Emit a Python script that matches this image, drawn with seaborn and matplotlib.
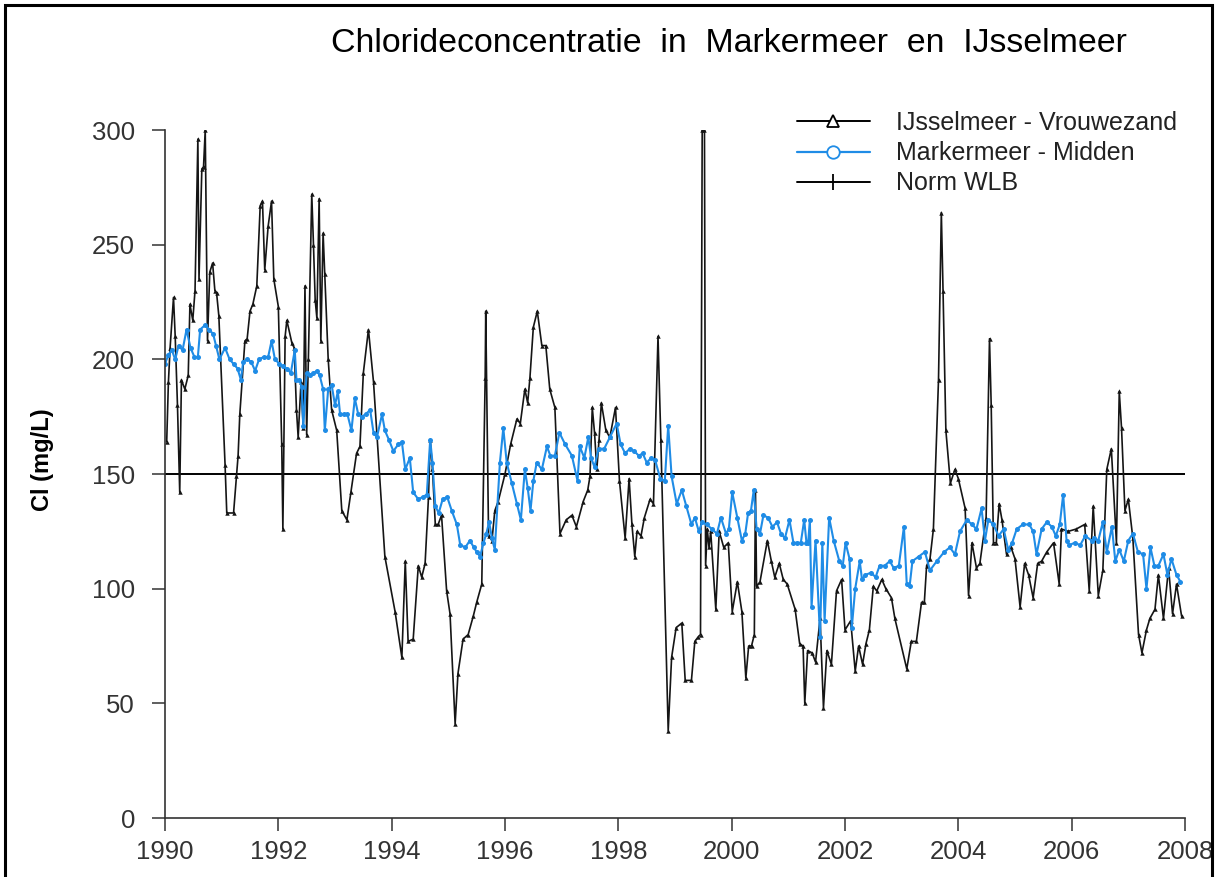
import matplotlib
matplotlib.use("Agg")
import matplotlib.pyplot as plt
from matplotlib.lines import Line2D
from matplotlib.patches import Rectangle
import seaborn as sns
import pandas as pd

# ---------------- data ----------------
ijssel_year = [
    1990.03, 1990.06, 1990.09, 1990.15, 1990.18, 1990.22, 1990.26, 1990.29, 1990.35, 1990.41,
    1990.44, 1990.49, 1990.53, 1990.58, 1990.60, 1990.65, 1990.68, 1990.71, 1990.75, 1990.79,
    1990.84, 1990.88, 1990.91, 1990.95, 1991.06, 1991.09, 1991.21, 1991.26, 1991.29, 1991.32,
    1991.41, 1991.45, 1991.50, 1991.55, 1991.62, 1991.68, 1991.72, 1991.76, 1991.82, 1991.88,
    1991.92, 1992.00, 1992.06, 1992.08, 1992.12, 1992.15, 1992.24, 1992.28, 1992.32, 1992.35,
    1992.40, 1992.44, 1992.47, 1992.50, 1992.53, 1992.59, 1992.62, 1992.65, 1992.68, 1992.72,
    1992.75, 1992.79, 1992.82, 1992.88, 1992.94, 1993.03, 1993.12, 1993.21, 1993.28, 1993.38,
    1993.44, 1993.50, 1993.59, 1993.68, 1993.88, 1994.06, 1994.18, 1994.24, 1994.29, 1994.38,
    1994.47, 1994.53, 1994.59, 1994.65, 1994.68, 1994.72, 1994.77, 1994.82, 1994.88, 1994.97,
    1995.03, 1995.12, 1995.17, 1995.26, 1995.35, 1995.44, 1995.50, 1995.59, 1995.65, 1995.66,
    1995.71, 1995.77, 1995.82, 1995.88, 1996.00, 1996.10, 1996.21, 1996.27, 1996.35, 1996.40,
    1996.44, 1996.50, 1996.57, 1996.65, 1996.72, 1996.79, 1996.88, 1996.97, 1997.08, 1997.18,
    1997.26, 1997.38, 1997.46, 1997.50, 1997.54, 1997.58, 1997.62, 1997.66, 1997.70, 1997.78,
    1997.85, 1997.95, 1998.02, 1998.12, 1998.19, 1998.24, 1998.29, 1998.33, 1998.40, 1998.46,
    1998.56, 1998.62, 1998.70, 1998.75, 1998.88, 1998.94, 1999.02, 1999.12, 1999.18, 1999.29,
    1999.35, 1999.41, 1999.45, 1999.48, 1999.52, 1999.54, 1999.57, 1999.60, 1999.63, 1999.72,
    1999.78, 1999.86, 1999.94, 2000.01, 2000.10, 2000.18, 2000.25, 2000.30, 2000.35, 2000.40,
    2000.42, 2000.44, 2000.50, 2000.63, 2000.70, 2000.76, 2000.84, 2000.91, 2000.98, 2001.12,
    2001.20, 2001.26, 2001.29, 2001.34, 2001.42, 2001.48, 2001.56, 2001.62, 2001.68, 2001.76,
    2001.85, 2001.94, 2002.00, 2002.10, 2002.18, 2002.24, 2002.31, 2002.37, 2002.43, 2002.50,
    2002.56, 2002.65, 2002.72, 2002.82, 2002.88, 2003.09, 2003.17, 2003.26, 2003.35, 2003.40,
    2003.44, 2003.50, 2003.56, 2003.65, 2003.70, 2003.73, 2003.78, 2003.86, 2003.94, 2004.00,
    2004.12, 2004.18, 2004.24, 2004.32, 2004.38, 2004.49, 2004.55, 2004.58, 2004.62, 2004.67,
    2004.72, 2004.77, 2004.85, 2004.93, 2005.00, 2005.09, 2005.17, 2005.24, 2005.32, 2005.40,
    2005.47, 2005.56, 2005.68, 2005.78, 2005.82, 2005.94, 2006.08, 2006.23, 2006.31, 2006.38,
    2006.47, 2006.55, 2006.62, 2006.70, 2006.79, 2006.84, 2006.88, 2006.94, 2007.00, 2007.08,
    2007.18, 2007.24, 2007.32, 2007.38, 2007.47, 2007.53, 2007.62, 2007.71, 2007.78, 2007.85,
    2007.94,
]
ijssel_cl = [
    164, 190, 205, 227, 210, 180, 142, 191, 187, 193,
    224, 217, 230, 296, 235, 283, 284, 300, 208, 238,
    242, 230, 229, 219, 154, 133, 133, 149, 158, 176,
    208, 209, 221, 224, 232, 267, 269, 239, 258, 269,
    235, 223, 163, 126, 210, 217, 207, 205, 178, 166,
    190, 170, 232, 167, 200, 272, 250, 226, 218, 270,
    208, 255, 237, 200, 178, 169, 134, 130, 142, 159,
    162, 194, 213, 190, 114, 90, 70, 112, 77, 78,
    110, 105, 111, 140, 165, 152, 128, 128, 132, 99,
    89, 41, 63, 78, 80, 88, 94, 102, 192, 221,
    123, 121, 134, 138, 150, 163, 174, 172, 187, 181,
    192, 214, 221, 206, 206, 187, 179, 124, 130, 132,
    127, 138, 143, 149, 179, 168, 152, 165, 181, 169,
    166, 179, 147, 122, 148, 128, 114, 125, 123, 131,
    139, 137, 210, 165, 38, 70, 83, 85, 60, 60,
    77, 79, 80, 300, 300, 110, 126, 118, 125, 91,
    125, 118, 120, 90, 103, 90, 61, 75, 75, 80,
    143, 101, 103, 121, 112, 105, 111, 104, 102, 91,
    76, 75, 50, 73, 72, 68, 87, 48, 73, 67,
    99, 104, 82, 86, 64, 75, 67, 76, 82, 101,
    99, 104, 100, 96, 87, 65, 77, 77, 94, 94,
    110, 113, 126, 191, 264, 230, 169, 146, 152, 148,
    135, 97, 120, 109, 111, 131, 209, 180, 120, 120,
    137, 130, 115, 118, 113, 92, 111, 106, 96, 111,
    112, 116, 120, 102, 126, 125, 126, 128, 99, 136,
    97, 108, 152, 161, 120, 186, 170, 134, 139, 122,
    80, 72, 82, 87, 91, 106, 87, 109, 89, 102,
    88,
]

marker_year = [
    1990.00, 1990.06, 1990.12, 1990.18, 1990.24, 1990.31, 1990.38, 1990.45, 1990.52, 1990.58,
    1990.62, 1990.71, 1990.78, 1990.85, 1990.90, 1990.96, 1991.06, 1991.14, 1991.21, 1991.28,
    1991.34, 1991.38, 1991.45, 1991.52, 1991.59, 1991.66, 1991.74, 1991.82, 1991.88, 1991.94,
    1992.02, 1992.08, 1992.15, 1992.22, 1992.29, 1992.32, 1992.37, 1992.41, 1992.44, 1992.50,
    1992.56, 1992.62, 1992.68, 1992.73, 1992.79, 1992.82, 1992.88, 1992.94, 1993.00, 1993.05,
    1993.09, 1993.15, 1993.22, 1993.29, 1993.35, 1993.41, 1993.47, 1993.54, 1993.62, 1993.68,
    1993.74, 1993.83, 1993.88, 1993.95, 1994.03, 1994.12, 1994.18, 1994.24, 1994.32, 1994.38,
    1994.47, 1994.55, 1994.62, 1994.68, 1994.72, 1994.77, 1994.83, 1994.90, 1994.98, 1995.06,
    1995.15, 1995.21, 1995.30, 1995.38, 1995.45, 1995.50, 1995.56, 1995.62, 1995.67, 1995.72,
    1995.77, 1995.82, 1995.91, 1995.97, 1996.03, 1996.12, 1996.21, 1996.28, 1996.35, 1996.40,
    1996.45, 1996.50, 1996.56, 1996.65, 1996.74, 1996.80, 1996.88, 1996.96, 1997.06, 1997.18,
    1997.28, 1997.32, 1997.40, 1997.47, 1997.52, 1997.58, 1997.65, 1997.75, 1997.85, 1997.97,
    1998.04, 1998.12, 1998.20, 1998.28, 1998.36, 1998.43, 1998.50, 1998.58, 1998.65, 1998.74,
    1998.82, 1998.88, 1998.94, 1999.03, 1999.12, 1999.20, 1999.29, 1999.35, 1999.42, 1999.48,
    1999.56, 1999.65, 1999.74, 1999.81, 1999.90, 1999.95, 2000.01, 2000.10, 2000.18, 2000.24,
    2000.29, 2000.34, 2000.39, 2000.44, 2000.50, 2000.56, 2000.64, 2000.72, 2000.80, 2000.87,
    2000.94, 2001.02, 2001.09, 2001.15, 2001.22, 2001.28, 2001.32, 2001.35, 2001.38, 2001.41,
    2001.48, 2001.56, 2001.60, 2001.64, 2001.72, 2001.80, 2001.90, 2001.96, 2002.01, 2002.08,
    2002.12, 2002.18, 2002.26, 2002.30, 2002.36, 2002.46, 2002.54, 2002.61, 2002.70, 2002.79,
    2002.86, 2002.95, 2003.04, 2003.09, 2003.14, 2003.19, 2003.30, 2003.41, 2003.50, 2003.62,
    2003.75, 2003.85, 2003.94, 2004.03, 2004.15, 2004.24, 2004.32, 2004.41, 2004.47, 2004.53,
    2004.62, 2004.71, 2004.80, 2004.88, 2004.95, 2005.03, 2005.14, 2005.25, 2005.32, 2005.38,
    2005.47, 2005.56, 2005.65, 2005.72, 2005.79, 2005.85, 2005.91, 2005.96, 2006.05, 2006.15,
    2006.24, 2006.35, 2006.40, 2006.47, 2006.55, 2006.62, 2006.71, 2006.77, 2006.84, 2006.92,
    2007.00, 2007.08, 2007.17, 2007.26, 2007.32, 2007.39, 2007.46, 2007.53, 2007.62, 2007.69,
    2007.76, 2007.85, 2007.92,
]
marker_cl = [
    198, 202, 204, 200, 206, 204, 213, 205, 201, 201,
    213, 215, 213, 211, 206, 200, 205, 200, 198, 196,
    191, 199, 200, 199, 195, 200, 201, 201, 208, 200,
    198, 197, 196, 194, 204, 191, 191, 188, 171, 194,
    193, 194, 195, 193, 187, 169, 187, 189, 180, 186,
    176, 176, 176, 169, 183, 176, 175, 176, 178, 168,
    166, 176, 169, 165, 160, 163, 164, 152, 157, 142,
    139, 140, 141, 165, 155, 136, 133, 139, 140, 134,
    128, 119, 118, 121, 118, 116, 114, 120, 124, 129,
    122, 117, 155, 170, 155, 146, 137, 130, 152, 144,
    134, 147, 155, 152, 162, 158, 158, 168, 163, 158,
    147, 162, 157, 166, 157, 153, 161, 161, 166, 172,
    163, 159, 161, 160, 158, 159, 155, 157, 156, 148,
    147, 171, 149, 137, 143, 136, 128, 131, 125, 129,
    128, 126, 124, 131, 124, 126, 142, 131, 121, 124,
    133, 134, 143, 126, 124, 132, 131, 127, 129, 124,
    122, 130, 120, 120, 120, 130, 120, 120, 130, 92,
    121, 79, 120, 86, 131, 121, 112, 110, 120, 113,
    83, 100, 112, 104, 106, 107, 105, 110, 110, 112,
    109, 110, 127, 102, 101, 112, 114, 116, 108, 112,
    116, 118, 115, 125, 130, 128, 126, 135, 121, 130,
    128, 123, 126, 117, 120, 126, 128, 128, 125, 115,
    126, 129, 127, 123, 128, 141, 121, 119, 120, 119,
    123, 121, 122, 121, 129, 116, 127, 112, 117, 112,
    121, 124, 116, 115, 100, 118, 110, 110, 115, 106,
    113, 106, 103,
]

norm_year = [1990, 2008]
norm_cl = [150, 150]

series_labels = ["IJsselmeer - Vrouwezand", "Markermeer - Midden", "Norm WLB"]
x_ticks = [1990, 1992, 1994, 1996, 1998, 2000, 2002, 2004, 2006, 2008]
y_ticks = [0, 50, 100, 150, 200, 250, 300]
title_text = "Chlorideconcentratie  in  Markermeer  en  IJsselmeer"
ylabel_text = "Cl (mg/L)"

BLUE = "#1f8ce6"

# ---------------- figure ----------------
sns.set_theme(style="ticks")
plt.rcParams["font.family"] = ["Liberation Sans", "DejaVu Sans"]

W, H = 1218, 877
fig = plt.figure(figsize=(W / 100, H / 100), dpi=100)
fig.patch.set_facecolor("white")
ax = fig.add_axes([165 / W, 1 - 818 / H, (1185 - 165) / W, (818 - 130) / H])
ax.set_facecolor("white")

df_ij = pd.DataFrame({"year": ijssel_year, "cl": ijssel_cl})
df_mm = pd.DataFrame({"year": marker_year, "cl": marker_cl})
df_norm = pd.DataFrame({"year": norm_year, "cl": norm_cl})

sns.lineplot(data=df_norm, x="year", y="cl", ax=ax, color="black", linewidth=1.4,
             estimator=None, sort=False, legend=False)
sns.lineplot(data=df_ij, x="year", y="cl", ax=ax, color="#151515", linewidth=1.2,
             marker="^", markersize=3.2, markeredgewidth=0, estimator=None, sort=False,
             legend=False)
sns.lineplot(data=df_mm, x="year", y="cl", ax=ax, color=BLUE, linewidth=1.5,
             marker="o", markersize=3.6, markeredgewidth=0, estimator=None, sort=False,
             legend=False)

ax.set_xlim(1990, 2008)
ax.set_ylim(0, 300)
ax.set_xticks(x_ticks)
ax.set_yticks(y_ticks)
ax.set_xticklabels([str(t) for t in x_ticks])
ax.set_yticklabels([str(t) for t in y_ticks])
ax.set_xlabel("")
ax.set_ylabel("")
for side in ["top", "right"]:
    ax.spines[side].set_visible(False)
for side in ["left", "bottom"]:
    ax.spines[side].set_color("#333333")
    ax.spines[side].set_linewidth(1.2)
ax.tick_params(axis="both", direction="out", length=9.5, width=1.1, color="#333333",
               labelsize=18.5, labelcolor="#333333")
ax.tick_params(axis="y", pad=12)
ax.tick_params(axis="x", pad=6)
ax.grid(False)

# legend
handles = [
    Line2D([], [], color="black", linewidth=1.4, marker="^", markersize=9,
           markerfacecolor="white", markeredgecolor="black", markeredgewidth=1.3),
    Line2D([], [], color=BLUE, linewidth=1.6, marker="o", markersize=9,
           markerfacecolor="white", markeredgecolor=BLUE, markeredgewidth=1.3),
    Line2D([], [], color="black", linewidth=1.4, marker="|", markersize=11,
           markeredgewidth=1.3),
]
leg = ax.legend(handles, series_labels, loc="upper left",
                bbox_to_anchor=(797 / W, 1 - 111 / H), bbox_transform=fig.transFigure,
                frameon=False, fontsize=18, handlelength=2.9, handletextpad=1.05,
                labelspacing=0.25, borderaxespad=0, borderpad=0)
for t in leg.get_texts():
    t.set_color("#222222")

# title and y label
fig.text(729 / W, 1 - 43 / H, title_text, ha="center", va="center", fontsize=24.4,
         color="black")
fig.text(42 / W, 1 - 460 / H, ylabel_text, ha="center", va="center", rotation=90,
         fontsize=17, fontweight="bold", color="black")

# frame around the picture
fig.patches.append(Rectangle((5 / W, -0.05), (1212 - 5) / W, 1.05 - 5 / H,
                             transform=fig.transFigure, fill=False,
                             edgecolor="black", linewidth=2.2))

fig.savefig("out.png", dpi=100, facecolor="white")
